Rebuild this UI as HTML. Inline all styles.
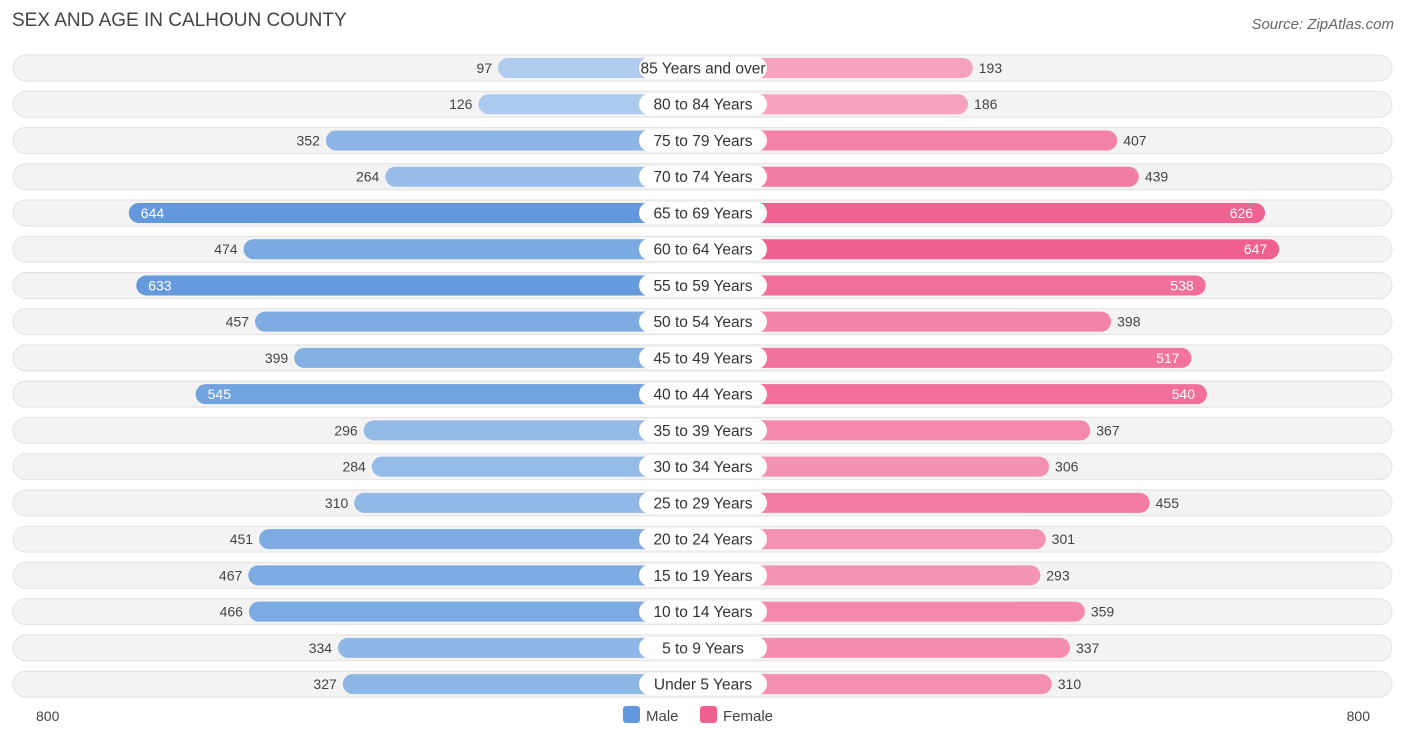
<!DOCTYPE html>
<html><head><meta charset="utf-8"><style>
body{margin:0;width:1406px;height:739px;background:#fff;font-family:"Liberation Sans",sans-serif;overflow:hidden;position:relative}
.t{position:absolute;left:12px;top:10px;font-size:19px;color:#444}
.s{position:absolute;right:12px;top:16px;font-size:15px;color:#666;font-style:italic}
</style></head><body>
<div class="t">SEX AND AGE IN CALHOUN COUNTY</div>
<div class="s">Source: ZipAtlas.com</div>
<svg id="c" width="1406" height="739" style="position:absolute;left:0;top:0"></svg>
<script>
const categories=["85 Years and over","80 to 84 Years","75 to 79 Years","70 to 74 Years","65 to 69 Years","60 to 64 Years","55 to 59 Years","50 to 54 Years","45 to 49 Years","40 to 44 Years","35 to 39 Years","30 to 34 Years","25 to 29 Years","20 to 24 Years","15 to 19 Years","10 to 14 Years","5 to 9 Years","Under 5 Years"];
const male=[97,126,352,264,644,474,633,457,399,545,296,284,310,451,467,466,334,327];
const female=[193,186,407,439,626,647,538,398,517,540,367,306,455,301,293,359,337,310];
const axisLabels=["800","800"];
const NS="http://www.w3.org/2000/svg",svg=document.getElementById('c');
const cx=703,base=139.5,k=0.675;
function len(v){return base+k*v;}
function y(i){return 68+i*36.24;}
function mix(a,b,t){return 'rgb('+a.map((x,j)=>Math.round(x+(b[j]-x)*t)).join(',')+')';}
function el(t,a,p){const e=document.createElementNS(NS,t);for(const q in a)e.setAttribute(q,a[q]);(p||svg).appendChild(e);return e;}
const mx=Math.max(...male,...female);
categories.forEach((c,i)=>{
 const yy=y(i);
 const g=el('g',{});
 
 
 const bg=el('rect',{x:13,y:yy-13,width:1379,height:26,rx:13,fill:'#f3f3f3',stroke:'#e2e2e2','stroke-width':1},g);
 
 
 const lm=len(male[i]),lf=len(female[i]);
 const tm=(male[i]-90)/(mx-90),tf=(female[i]-90)/(mx-90);
 const mb=el('rect',{x:cx-lm,y:yy-10,width:lm,height:20,rx:10,fill:mix([176,205,238],[99,153,220],tm)},g);
 
 
 const fb=el('rect',{x:cx,y:yy-10,width:lf,height:20,rx:10,fill:mix([247,176,200],[240,96,143],tf)},g);
 
 
 const lb=el('rect',{x:cx-64,y:yy-11,width:128,height:22,rx:11,fill:'#fff'},g);
 
 
 const lt=el('text',{x:cx,y:yy+5.5,'text-anchor':'middle','font-size':15.5,fill:'#333'},g);lt.textContent=c;
 
 
 const inM=male[i]>=500,inF=female[i]>=500;
 const vm=el('text',{x:inM?cx-lm+12:cx-lm-6,y:yy+5,'text-anchor':inM?'start':'end','font-size':14,fill:inM?'#fff':'#444'},g);vm.textContent=male[i];
 
 
 const vf=el('text',{x:inF?cx+lf-12:cx+lf+6,y:yy+5,'text-anchor':inF?'end':'start','font-size':14,fill:inF?'#fff':'#444'},g);vf.textContent=female[i];
 
 
});
const a1=el('text',{x:36,y:721,'font-size':14,fill:'#444'});a1.textContent=axisLabels[0];


const a2=el('text',{x:1370,y:721,'font-size':14,fill:'#444','text-anchor':'end'});a2.textContent=axisLabels[1];


const l1=el('rect',{x:623,y:706,width:17,height:17,rx:3,fill:'#6399dc'});


const t1=el('text',{x:646,y:721,'font-size':15,fill:'#444'});t1.textContent='Male';


const l2=el('rect',{x:700,y:706,width:17,height:17,rx:3,fill:'#f0608f'});


const t2=el('text',{x:723,y:721,'font-size':15,fill:'#444'});t2.textContent='Female';


</script>
</body></html>
